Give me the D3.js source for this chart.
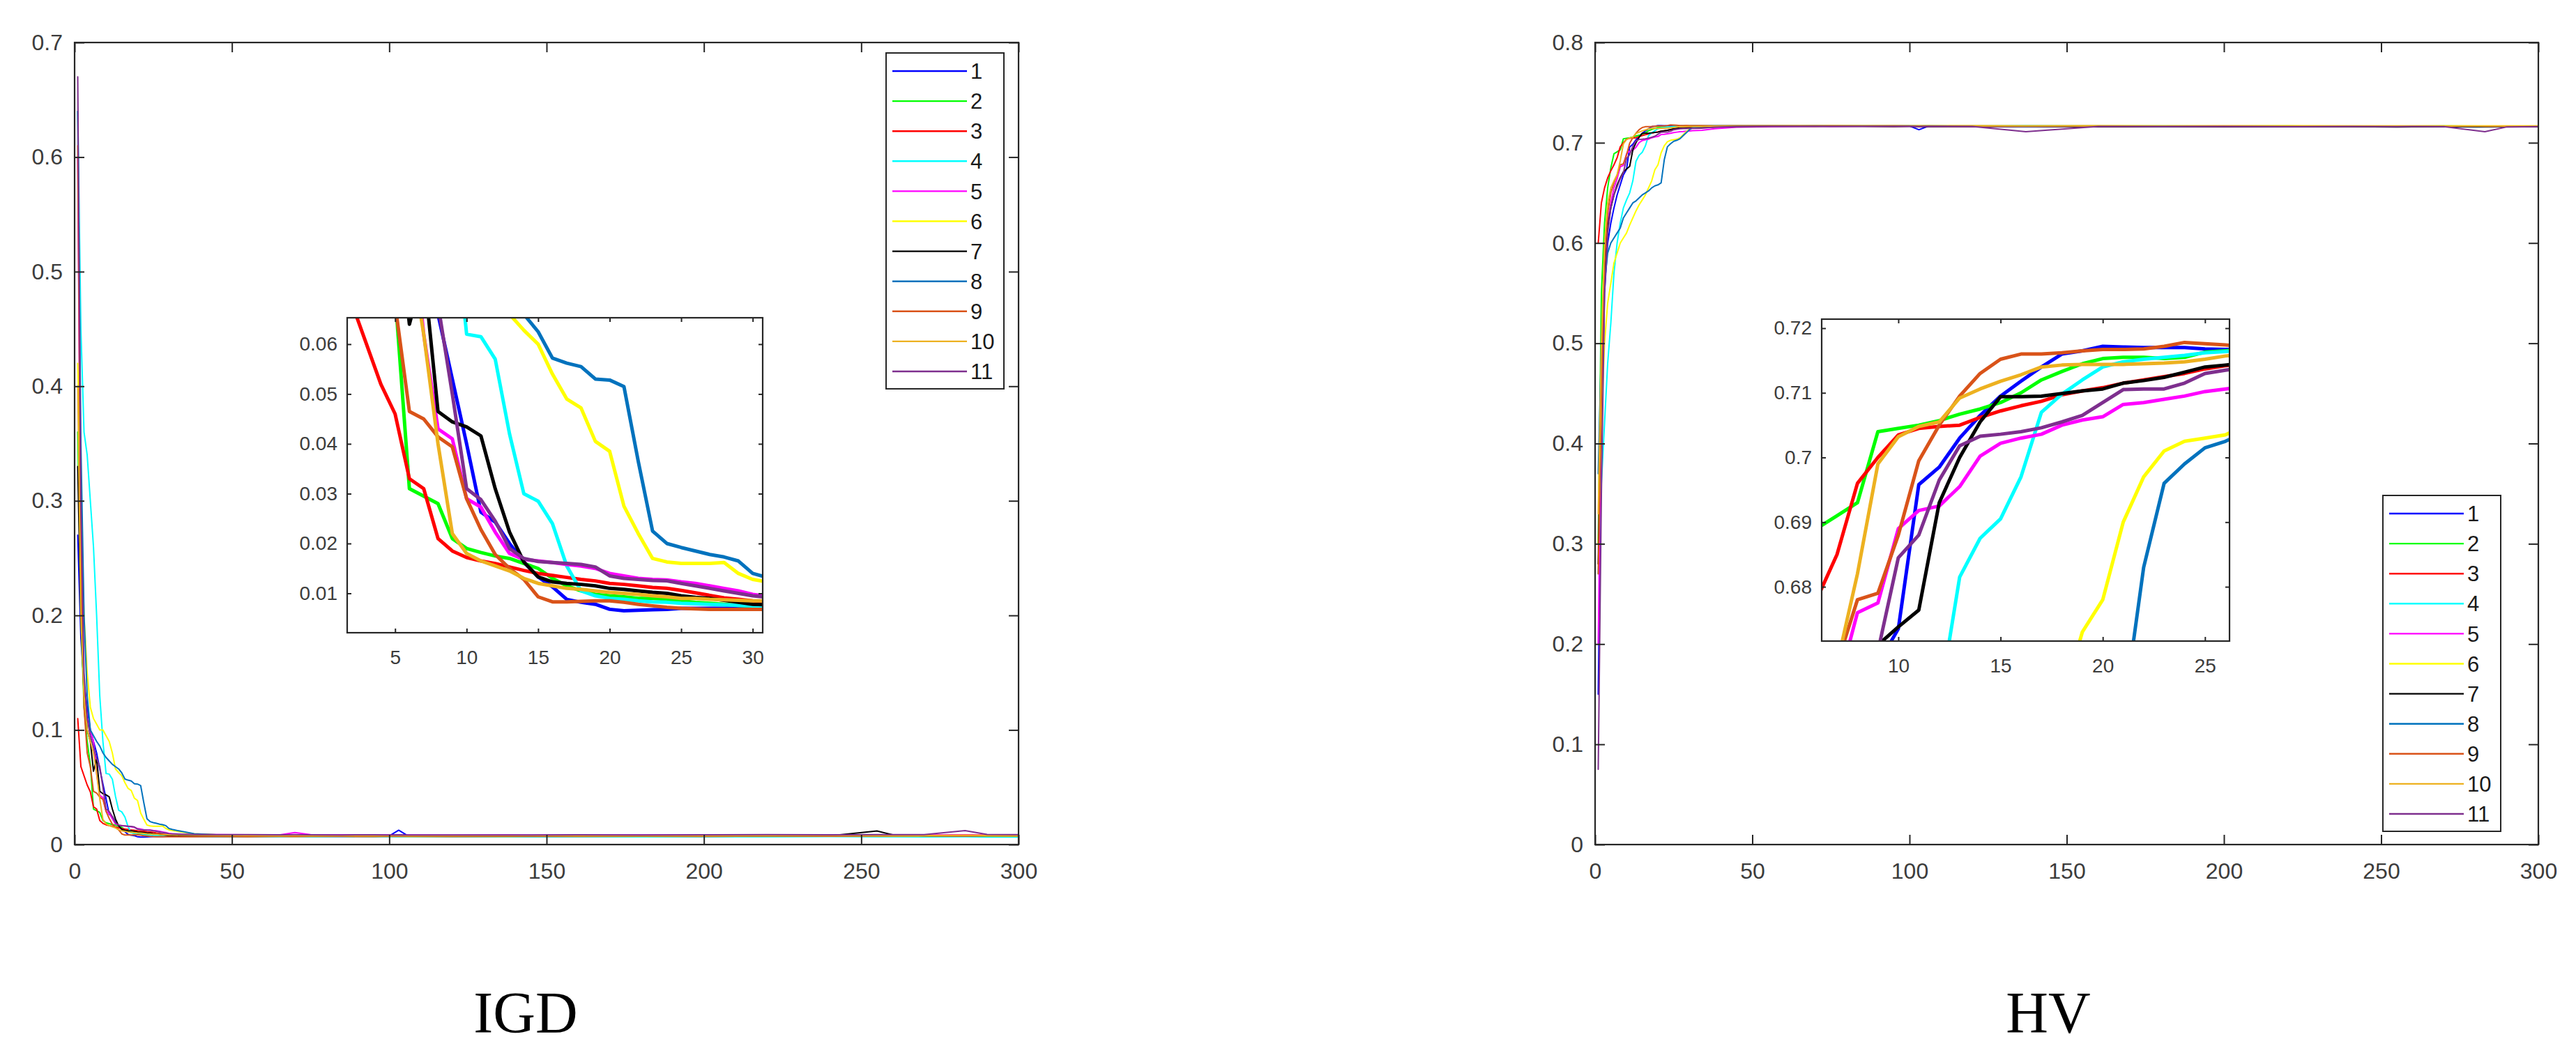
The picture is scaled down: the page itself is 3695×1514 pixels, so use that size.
<!DOCTYPE html>
<html><head><meta charset="utf-8">
<script src="https://cdn.jsdelivr.net/npm/d3@7"></script>
<style>body{margin:0;background:#fff}svg{display:block}</style>
</head><body>
<svg id="c" width="3695" height="1514"></svg>
<script>
// ---------- DATA ----------
const seriesNames = ["1","2","3","4","5","6","7","8","9","10","11"];
const seriesColors = ["#0000ff","#00ff00","#ff0000","#00ffff","#ff00ff","#ffff00","#000000","#0072bd","#d95319","#edb120","#7e2f8e"];
const earlyIter = [1,2,3,4,5,6,7,8,9,10,11,12,13,14,15,16,17,18,19,20,21,22,23,24,25,26,27,28,29,30,31];
const tailIter = [34,38,45,55,65,70,75,85,95,100,103,106,120,137,160,180,200,220,240,255,260,270,283,290,300];

// IGD, iterations 1..31
const igdEarly1 = [0.27,0.18,0.14,0.12,0.1,0.09,0.08,0.066,0.053,0.040,0.0263,0.0243,0.020,0.0163,0.0133,0.0113,0.0088,0.0082,0.0078,0.0068,0.0065,0.0066,0.0067,0.0068,0.007,0.007,0.007,0.007,0.0071,0.0072,0.0072];
const igdEarly2 = [0.36,0.2,0.12,0.09,0.07,0.031,0.0295,0.028,0.021,0.019,0.0182,0.0175,0.017,0.016,0.015,0.013,0.0115,0.0105,0.0098,0.0095,0.0093,0.009,0.009,0.0088,0.0085,0.0082,0.008,0.0078,0.0076,0.0075,0.0074];
const igdEarly3 = [0.11,0.068,0.060,0.052,0.046,0.033,0.031,0.021,0.0185,0.0172,0.0165,0.016,0.0153,0.0146,0.014,0.0136,0.0132,0.0128,0.0125,0.012,0.0118,0.0115,0.0112,0.011,0.0106,0.0101,0.0096,0.0091,0.0088,0.0085,0.0083];
const igdEarly4 = [0.64,0.45,0.36,0.34,0.3,0.26,0.2,0.13,0.09,0.062,0.0615,0.057,0.042,0.030,0.0285,0.024,0.0155,0.0105,0.0095,0.009,0.0088,0.0085,0.0083,0.0082,0.008,0.0079,0.0078,0.0077,0.0076,0.0075,0.0075];
const igdEarly5 = [0.6,0.22,0.14,0.11,0.1,0.09,0.062,0.043,0.041,0.029,0.0273,0.0223,0.018,0.0168,0.0165,0.0162,0.0158,0.0155,0.015,0.014,0.0135,0.013,0.0128,0.0127,0.0123,0.012,0.0115,0.011,0.0105,0.0098,0.0094];
const igdEarly6 = [0.42,0.3,0.2,0.15,0.12,0.11,0.105,0.1,0.1,0.095,0.09,0.08,0.066,0.0628,0.06,0.054,0.049,0.0472,0.0405,0.0385,0.0275,0.022,0.017,0.0163,0.016,0.016,0.016,0.0162,0.014,0.0128,0.0123];
const igdEarly7 = [0.33,0.2,0.13,0.1,0.09,0.064,0.075,0.0465,0.0444,0.0434,0.0416,0.031,0.0223,0.0163,0.0133,0.0123,0.012,0.0118,0.0115,0.011,0.0108,0.0105,0.0102,0.01,0.0095,0.0092,0.009,0.0086,0.0082,0.0078,0.0077];
const igdEarly8 = [0.64,0.35,0.2,0.13,0.1,0.095,0.09,0.086,0.08,0.076,0.073,0.07,0.068,0.066,0.0625,0.0572,0.0562,0.0555,0.053,0.0528,0.0515,0.0365,0.0225,0.020,0.0192,0.0185,0.0178,0.0173,0.0165,0.014,0.0132];
const igdEarly9 = [0.61,0.25,0.12,0.08,0.068,0.0465,0.045,0.0414,0.0394,0.029,0.0228,0.0178,0.015,0.0128,0.0093,0.0083,0.0083,0.0084,0.0085,0.0085,0.0082,0.0078,0.0075,0.0072,0.007,0.0069,0.0068,0.0068,0.0068,0.0068,0.0068];
const igdEarly10 = [0.4,0.2,0.13,0.1,0.09,0.08,0.062,0.04,0.022,0.018,0.0165,0.0155,0.0145,0.013,0.012,0.0115,0.011,0.0108,0.0105,0.0102,0.01,0.0098,0.0095,0.0093,0.009,0.009,0.0088,0.0087,0.0086,0.0085,0.0085];
const igdEarly11 = [0.67,0.3,0.15,0.11,0.095,0.085,0.075,0.068,0.05,0.031,0.0288,0.0245,0.019,0.017,0.0164,0.0162,0.016,0.0158,0.0153,0.0135,0.013,0.0128,0.0126,0.0125,0.012,0.0115,0.011,0.0105,0.01,0.0095,0.0092];

const igdTail1 = [0.0072,0.0071,0.007,0.0072,0.0071,0.0073,0.0072,0.007,0.0072,0.0075,0.0125,0.0075,0.0072,0.007,0.0071,0.0073,0.0072,0.0074,0.0073,0.0075,0.0074,0.0073,0.0076,0.0076,0.0075];
const igdTail2 = [0.0074,0.0073,0.0072,0.0071,0.0072,0.0071,0.0072,0.0073,0.0071,0.0072,0.0072,0.0071,0.007,0.0072,0.0071,0.007,0.0072,0.0071,0.0073,0.0072,0.0071,0.0072,0.0073,0.0072,0.0071];
const igdTail3 = [0.008,0.0078,0.0079,0.0077,0.0078,0.008,0.0079,0.0078,0.0077,0.0078,0.0079,0.0078,0.0077,0.0079,0.008,0.0078,0.0079,0.0081,0.0082,0.0083,0.0082,0.0081,0.0083,0.0082,0.0084];
const igdTail4 = [0.0073,0.0072,0.007,0.0069,0.007,0.0071,0.0069,0.007,0.0068,0.0069,0.007,0.0069,0.0068,0.0067,0.0068,0.0069,0.0068,0.0069,0.007,0.0069,0.0068,0.0067,0.0068,0.0066,0.0065];
const igdTail5 = [0.009,0.0088,0.0086,0.0085,0.0084,0.0105,0.0087,0.0085,0.0084,0.0083,0.0082,0.0083,0.0082,0.0083,0.0082,0.0083,0.0084,0.0083,0.0082,0.0083,0.0082,0.0083,0.0082,0.0081,0.0082];
const igdTail6 = [0.011,0.0095,0.0085,0.008,0.0078,0.0077,0.0076,0.0075,0.0074,0.0074,0.0073,0.0072,0.0073,0.0072,0.0073,0.0074,0.0073,0.0074,0.0075,0.0074,0.0073,0.0074,0.0075,0.0074,0.0073];
const igdTail7 = [0.0076,0.0075,0.0074,0.0075,0.0076,0.0075,0.0074,0.0075,0.0076,0.0075,0.0076,0.0075,0.0074,0.0075,0.0074,0.0075,0.0076,0.0077,0.0076,0.0118,0.0085,0.0078,0.0077,0.0078,0.0077];
const igdTail8 = [0.0115,0.0095,0.0085,0.008,0.0078,0.0077,0.0076,0.0077,0.0076,0.0075,0.0076,0.0075,0.0076,0.0077,0.0076,0.0077,0.0078,0.0077,0.0078,0.0079,0.0078,0.0079,0.0078,0.0079,0.008];
const igdTail9 = [0.0068,0.0069,0.007,0.0069,0.0071,0.007,0.0072,0.0071,0.007,0.0071,0.0072,0.0071,0.007,0.0072,0.0071,0.0073,0.0072,0.0074,0.0073,0.0075,0.0074,0.0076,0.0075,0.0077,0.0076];
const igdTail10 = [0.0084,0.0082,0.008,0.0079,0.0078,0.0079,0.0078,0.0077,0.0078,0.0077,0.0078,0.0077,0.0078,0.0079,0.0078,0.0077,0.0078,0.0079,0.008,0.0079,0.0078,0.0079,0.008,0.0079,0.0078];
const igdTail11 = [0.009,0.0088,0.0087,0.0086,0.0085,0.0086,0.0085,0.0084,0.0085,0.0084,0.0085,0.0084,0.0083,0.0084,0.0085,0.0084,0.0085,0.0086,0.0085,0.0086,0.0087,0.0086,0.0122,0.0088,0.0087];

// HV, iterations 1..31
const hvEarly1 = [0.15,0.4,0.55,0.6,0.62,0.635,0.648,0.658,0.668,0.6735,0.6958,0.6985,0.703,0.7065,0.7095,0.7118,0.714,0.716,0.7165,0.7172,0.7171,0.717,0.717,0.717,0.7168,0.7167,0.7168,0.7168,0.7169,0.7168,0.7169];
const hvEarly2 = [0.3,0.55,0.62,0.655,0.675,0.689,0.691,0.693,0.704,0.7045,0.705,0.7057,0.7067,0.7075,0.7085,0.71,0.712,0.7133,0.7145,0.7153,0.7155,0.7155,0.7153,0.7155,0.7163,0.7165,0.7167,0.7168,0.7167,0.7168,0.7168];
const hvEarly3 = [0.6,0.64,0.655,0.665,0.672,0.678,0.685,0.696,0.7,0.7035,0.7045,0.7048,0.705,0.7062,0.7072,0.708,0.7087,0.7097,0.7103,0.7108,0.7115,0.712,0.7125,0.713,0.7137,0.7142,0.7145,0.7147,0.7149,0.715,0.7151];
const hvEarly4 = [0.27,0.36,0.42,0.48,0.52,0.57,0.6,0.62,0.635,0.643,0.65,0.662,0.6815,0.6875,0.6905,0.697,0.707,0.7098,0.712,0.714,0.7148,0.7152,0.7155,0.7158,0.7162,0.7164,0.7166,0.7167,0.7168,0.7168,0.7169];
const hvEarly5 = [0.2,0.45,0.57,0.62,0.64,0.655,0.664,0.676,0.6775,0.689,0.6918,0.6925,0.6955,0.7002,0.7022,0.703,0.7036,0.705,0.7058,0.7063,0.7082,0.7085,0.709,0.7095,0.7102,0.7106,0.711,0.7112,0.7115,0.7118,0.712];
const hvEarly6 = [0.3,0.42,0.5,0.54,0.56,0.58,0.59,0.6,0.605,0.61,0.618,0.625,0.632,0.638,0.643,0.648,0.655,0.662,0.673,0.678,0.69,0.697,0.701,0.7025,0.703,0.7035,0.705,0.708,0.711,0.7135,0.715];
const hvEarly7 = [0.28,0.48,0.57,0.615,0.635,0.648,0.658,0.665,0.671,0.6738,0.6764,0.693,0.7,0.7055,0.7094,0.7094,0.7095,0.7099,0.7103,0.7106,0.7115,0.7119,0.7124,0.7132,0.714,0.7143,0.7146,0.7148,0.7149,0.715,0.7151];
const hvEarly8 = [0.37,0.5,0.56,0.59,0.6,0.605,0.61,0.615,0.625,0.63,0.635,0.64,0.642,0.645,0.648,0.65,0.652,0.655,0.657,0.658,0.66,0.683,0.696,0.699,0.7015,0.7025,0.704,0.707,0.71,0.713,0.715];
const hvEarly9 = [0.27,0.45,0.58,0.63,0.65,0.66,0.668,0.678,0.679,0.688,0.6995,0.705,0.7095,0.713,0.7152,0.716,0.716,0.7162,0.7165,0.7167,0.7167,0.7168,0.7172,0.7178,0.7176,0.7174,0.7172,0.7172,0.7173,0.7172,0.7172];
const hvEarly10 = [0.33,0.5,0.6,0.64,0.655,0.662,0.668,0.682,0.699,0.7032,0.7048,0.7055,0.7092,0.7106,0.7118,0.7128,0.714,0.7143,0.7144,0.7144,0.7144,0.7145,0.7146,0.7148,0.7152,0.7157,0.716,0.7161,0.7162,0.7162,0.7163];
const hvEarly11 = [0.075,0.35,0.55,0.61,0.635,0.648,0.656,0.664,0.67,0.6845,0.688,0.6965,0.7018,0.7033,0.7036,0.704,0.7046,0.7055,0.7065,0.7085,0.7105,0.7106,0.7106,0.7115,0.713,0.7135,0.714,0.7141,0.7142,0.7143,0.7144];

const hvTail1 = [0.7168,0.717,0.7169,0.717,0.7168,0.7169,0.717,0.7168,0.7169,0.7167,0.713,0.7165,0.7166,0.7165,0.7166,0.7164,0.7165,0.7163,0.7164,0.7162,0.7163,0.7162,0.7163,0.7162,0.7163];
const hvTail2 = [0.7168,0.7167,0.7169,0.7168,0.7167,0.7168,0.7169,0.7167,0.7168,0.7166,0.7167,0.7168,0.7167,0.7166,0.7167,0.7168,0.7166,0.7167,0.7166,0.7165,0.7166,0.7167,0.7166,0.7165,0.7166];
const hvTail3 = [0.7152,0.7158,0.7162,0.7165,0.7166,0.7165,0.7167,0.7166,0.7165,0.7166,0.7165,0.7164,0.7165,0.7164,0.7165,0.7163,0.7164,0.7162,0.7163,0.7161,0.716,0.7162,0.7161,0.716,0.7161];
const hvTail4 = [0.7168,0.7169,0.7168,0.7167,0.7168,0.7169,0.7168,0.7167,0.7168,0.7169,0.7168,0.7167,0.7166,0.7172,0.7166,0.7165,0.7166,0.7165,0.7164,0.7165,0.7164,0.7163,0.7164,0.7163,0.7162];
const hvTail5 = [0.7125,0.714,0.7155,0.716,0.7162,0.7164,0.7163,0.7164,0.7165,0.7164,0.7165,0.7164,0.7163,0.7164,0.7163,0.7164,0.7163,0.7162,0.7163,0.7162,0.7161,0.7162,0.7161,0.7162,0.7161];
const hvTail6 = [0.716,0.7165,0.7168,0.7169,0.7168,0.7169,0.717,0.7169,0.7168,0.7169,0.7168,0.7169,0.7168,0.7167,0.7168,0.7167,0.7168,0.7169,0.7168,0.7167,0.7168,0.7167,0.7168,0.7167,0.7168];
const hvTail7 = [0.7152,0.7158,0.7162,0.7164,0.7165,0.7164,0.7165,0.7164,0.7163,0.7164,0.7163,0.7162,0.7163,0.7162,0.7161,0.7162,0.7161,0.716,0.7161,0.7158,0.7159,0.716,0.7159,0.716,0.7159];
const hvTail8 = [0.7162,0.7166,0.7168,0.7167,0.7168,0.7167,0.7168,0.7167,0.7166,0.7167,0.7166,0.7167,0.7166,0.7165,0.7166,0.7165,0.7166,0.7165,0.7164,0.7165,0.7164,0.7165,0.7164,0.7163,0.7164];
const hvTail9 = [0.7172,0.717,0.7169,0.717,0.7169,0.717,0.7169,0.7168,0.7169,0.7168,0.7167,0.7168,0.7167,0.7168,0.7167,0.7166,0.7167,0.7166,0.7165,0.7166,0.7165,0.7166,0.7165,0.7164,0.7165];
const hvTail10 = [0.7163,0.7166,0.7167,0.7168,0.7169,0.7168,0.7169,0.717,0.7169,0.7168,0.7169,0.7168,0.7169,0.7168,0.7169,0.7168,0.7167,0.7168,0.7167,0.7168,0.7167,0.7168,0.7167,0.7168,0.7167];
const hvTail11 = [0.7145,0.7155,0.7162,0.7164,0.7165,0.7164,0.7165,0.7164,0.7165,0.7164,0.7163,0.7164,0.7163,0.711,0.7162,0.7163,0.7162,0.7161,0.7162,0.7161,0.7162,0.7161,0.711,0.7158,0.716];

// Tick values / labels
const mainXTicks = [0,50,100,150,200,250,300];
const igdYTicks = [0,0.1,0.2,0.3,0.4,0.5,0.6,0.7];
const hvYTicks = [0,0.1,0.2,0.3,0.4,0.5,0.6,0.7,0.8];
const igdInsetXTicks = [5,10,15,20,25,30];
const igdInsetYTicks = [0.01,0.02,0.03,0.04,0.05,0.06];
const hvInsetXTicks = [10,15,20,25];
const hvInsetYTicks = [0.68,0.69,0.7,0.71,0.72];
const panelTitles = ["IGD","HV"];

// ---------- BUILD ----------
const igdEarly = [igdEarly1,igdEarly2,igdEarly3,igdEarly4,igdEarly5,igdEarly6,igdEarly7,igdEarly8,igdEarly9,igdEarly10,igdEarly11];
const igdTail = [igdTail1,igdTail2,igdTail3,igdTail4,igdTail5,igdTail6,igdTail7,igdTail8,igdTail9,igdTail10,igdTail11];
const hvEarly = [hvEarly1,hvEarly2,hvEarly3,hvEarly4,hvEarly5,hvEarly6,hvEarly7,hvEarly8,hvEarly9,hvEarly10,hvEarly11];
const hvTail = [hvTail1,hvTail2,hvTail3,hvTail4,hvTail5,hvTail6,hvTail7,hvTail8,hvTail9,hvTail10,hvTail11];
function build(early, tail){
  return early.map((e,i)=>{
    const pts = earlyIter.map((x,j)=>({x, y:e[j]}));
    tailIter.forEach((x,j)=>pts.push({x, y:tail[i][j]}));
    return pts;
  });
}
const igdSeries = build(igdEarly, igdTail);
const hvSeries = build(hvEarly, hvTail);

const svg = d3.select("#c");
const FONT = "'Liberation Sans', Arial, Helvetica, sans-serif";
const AX = "#262626", TXT = "#3c3c3c";

let clipId = 0;
function frame(g, x, y, tickLen, xTicks, yTicks, fontSize, padX, padY){
  const [x0,x1] = x.range(), [y0,y1] = [y.range()[1], y.range()[0]];
  const fmt = d3.format("~g");
  const bottom = g.append("g").attr("transform",`translate(0,${y1})`)
    .call(d3.axisBottom(x).tickValues(xTicks).tickSize(-tickLen).tickPadding(padY).tickFormat(fmt));
  const left = g.append("g").attr("transform",`translate(${x0},0)`)
    .call(d3.axisLeft(y).tickValues(yTicks).tickSize(-tickLen).tickPadding(padX).tickFormat(fmt));
  const top = g.append("g").attr("transform",`translate(0,${y0})`)
    .call(d3.axisTop(x).tickValues(xTicks).tickSize(-tickLen).tickFormat(""));
  const right = g.append("g").attr("transform",`translate(${x1},0)`)
    .call(d3.axisRight(y).tickValues(yTicks).tickSize(-tickLen).tickFormat(""));
  [bottom,left,top,right].forEach(a=>{
    a.select(".domain").remove();
    a.selectAll("line").attr("stroke",AX).attr("stroke-width",2);
    a.selectAll("text").attr("fill",TXT).style("font-family",FONT).style("font-size",fontSize+"px");
  });
  g.append("rect").attr("x",x0).attr("y",y0).attr("width",x1-x0).attr("height",y1-y0)
    .attr("fill","none").attr("stroke",AX).attr("stroke-width",2.2);
}

function drawLines(g, series, x, y, width){
  const id = "clip"+(clipId++);
  const [x0,x1] = x.range(), [y0,y1] = [y.range()[1], y.range()[0]];
  svg.append("defs").append("clipPath").attr("id",id).append("rect")
    .attr("x",x0).attr("y",y0).attr("width",x1-x0).attr("height",y1-y0);
  const line = d3.line().x(d=>x(d.x)).y(d=>y(d.y));
  const lg = g.append("g").attr("clip-path",`url(#${id})`);
  series.forEach((s,i)=>{
    lg.append("path").attr("d",line(s)).attr("fill","none")
      .attr("stroke",seriesColors[i]).attr("stroke-width",width)
      .attr("stroke-linejoin","round").attr("stroke-linecap","round");
  });
}

function legend(g, lx, ly){
  const w = 169, h = 482, first = 26, step = 43.1;
  g.append("rect").attr("x",lx).attr("y",ly).attr("width",w).attr("height",h)
    .attr("fill","#fff").attr("stroke",AX).attr("stroke-width",2);
  seriesNames.forEach((n,i)=>{
    const yy = ly + first + i*step;
    g.append("line").attr("x1",lx+9).attr("x2",lx+116).attr("y1",yy).attr("y2",yy)
      .attr("stroke",seriesColors[i]).attr("stroke-width",2.4);
    g.append("text").attr("x",lx+121).attr("y",yy).attr("dy","0.36em")
      .attr("fill","#1a1a1a").style("font-family",FONT).style("font-size","31px").text(n);
  });
}

function panel(cfg){
  const g = svg.append("g");
  const x = d3.scaleLinear().domain([0,300]).range([cfg.mx0,cfg.mx1]);
  const y = d3.scaleLinear().domain(cfg.yDom).range([1212,61]);
  drawLines(g, cfg.series, x, y, 2);
  frame(g, x, y, 14, mainXTicks, cfg.yTicks, 32, 17, 26);
  // inset
  const ix = d3.scaleLinear().domain(cfg.ixDom).range([cfg.ix0,cfg.ix1]);
  const iy = d3.scaleLinear().domain(cfg.iyDom).range([cfg.iy1,cfg.iy0]);
  g.append("rect").attr("x",cfg.ix0).attr("y",cfg.iy0).attr("width",cfg.ix1-cfg.ix0)
    .attr("height",cfg.iy1-cfg.iy0).attr("fill","#fff");
  drawLines(g, cfg.series, ix, iy, 5);
  frame(g, ix, iy, 6, cfg.ixTicks, cfg.iyTicks, 28, 14, 25);
  legend(g, cfg.lx, cfg.ly);
  g.append("text").attr("x",cfg.tx).attr("y",1482).attr("text-anchor","middle")
    .style("font-family","'Liberation Serif','Times New Roman',serif").style("font-size","84px")
    .attr("fill","#000").text(cfg.title);
}

panel({series:igdSeries, mx0:107, mx1:1461, yDom:[0,0.7], yTicks:igdYTicks,
  ix0:498, ix1:1094, iy0:456, iy1:908, ixDom:[1.65,30.7], iyDom:[0.0021,0.0653],
  ixTicks:igdInsetXTicks, iyTicks:igdInsetYTicks, lx:1271, ly:76, tx:754, title:panelTitles[0]});
panel({series:hvSeries, mx0:2288, mx1:3641, yDom:[0,0.8], yTicks:hvYTicks,
  ix0:2613, ix1:3198, iy0:458, iy1:920, ixDom:[6.25,26.2], iyDom:[0.6716,0.7214],
  ixTicks:hvInsetXTicks, iyTicks:hvInsetYTicks, lx:3418, ly:711, tx:2938, title:panelTitles[1]});
</script>
</body></html>
